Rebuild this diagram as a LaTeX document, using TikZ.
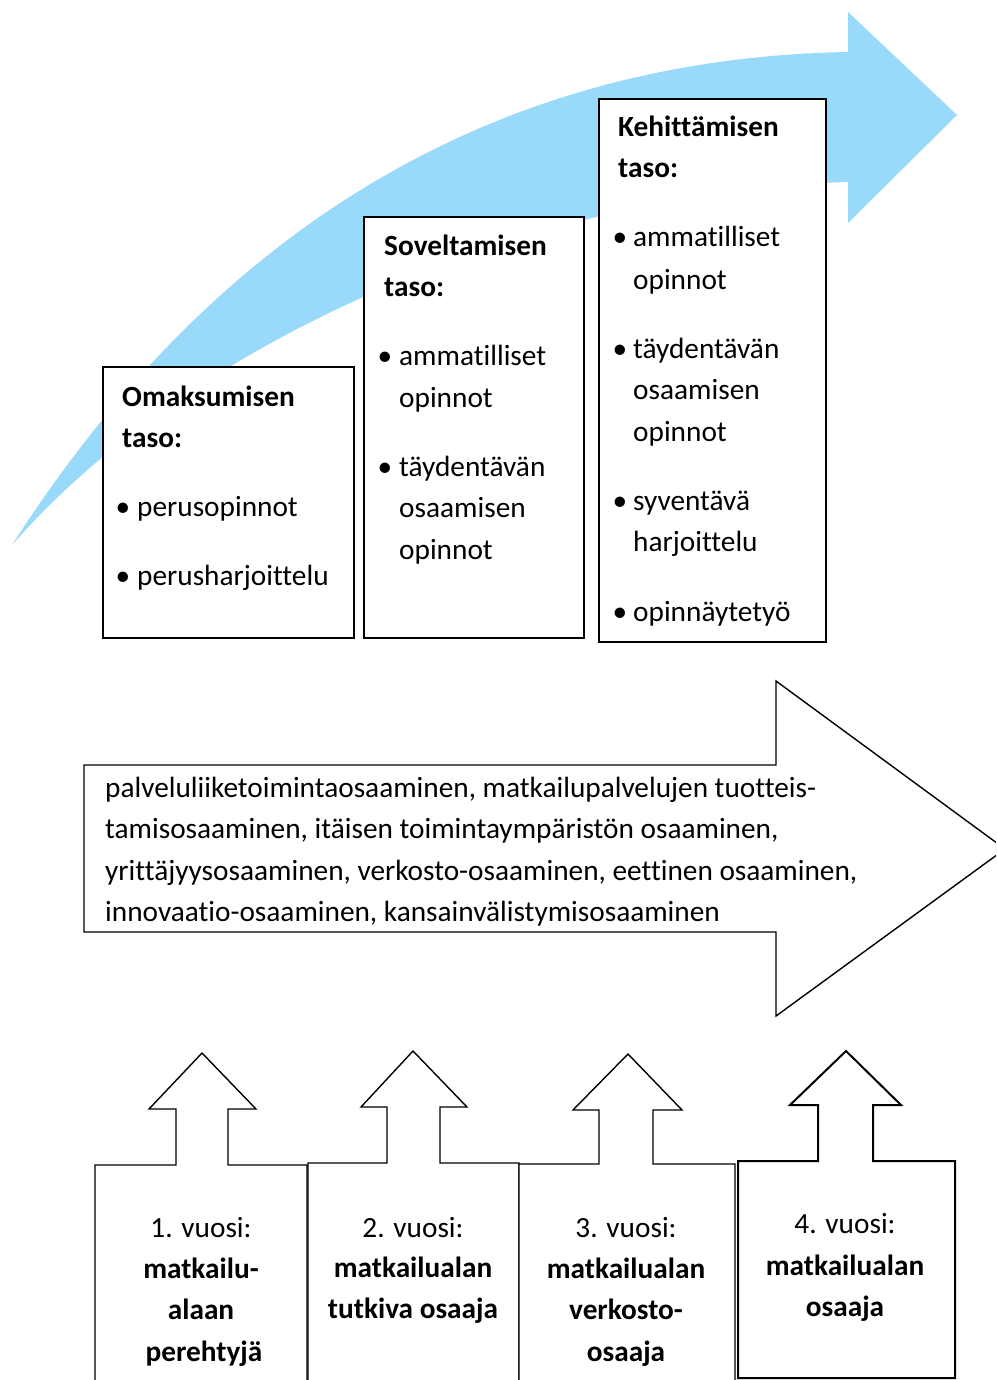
\documentclass[tikz,border=0pt]{standalone}
\usepackage{fontspec}
\setmainfont{Carlito}[Ligatures=NoCommon]
\definecolor{arrowblue}{RGB}{153,217,249}
\begin{document}
\begin{tikzpicture}[x=1pt,y=-1pt,
  lvl/.style={draw=black, line width=1.8pt, fill=white, inner sep=0pt, anchor=north west},
  txt/.style={anchor=base west, inner sep=0pt, font=\fontsize{29.3}{35}\selectfont},
  btxt/.style={anchor=base west, inner sep=0pt, font=\fontsize{29.3}{35}\selectfont\bfseries},
  bul/.style={anchor=base, inner sep=0pt, font=\fontsize{29.3}{35}\selectfont},
  ctxt/.style={anchor=base, inner sep=0pt, font=\fontsize{29.3}{35}\selectfont},
  cbtxt/.style={anchor=base, inner sep=0pt, font=\fontsize{29.3}{35}\selectfont\bfseries},
  outl/.style={draw=black, line width=1.4pt, fill=white, line join=miter},
  outlb/.style={draw=black, line width=2pt, fill=white, line join=miter}
]
\useasboundingbox (0,0) rectangle (996,1380);
\clip (0,0) rectangle (996,1380);

% curved blue arrow
\fill[arrowblue] (12,545) .. controls (150,330) and (400,60) .. (848,52)
  -- (848,12) -- (957,115) -- (848,223) -- (848,182)
  .. controls (550,190) and (200,330) .. (12,545) -- cycle;

% level boxes
\node[lvl, minimum width=251pt, minimum height=271pt] (omak) at (102,366) {};
\node[lvl, minimum width=220pt, minimum height=421pt] (sove) at (363,216) {};
\node[lvl, minimum width=227pt, minimum height=543pt] (kehi) at (598,98) {};

% Omaksumisen
\node[btxt] (o1) at (122,406) {Omaksumisen};
\node[btxt] (o2) at (122,447) {taso:};
\node[bul] (o3b) at (123,516) {•};
\node[txt] (o3) at (137,516) {perusopinnot};
\node[bul] (o4b) at (123,585) {•};
\node[txt] (o4) at (137,585) {perusharjoittelu};

% Soveltamisen
\node[btxt] (s1) at (384,255) {Soveltamisen};
\node[btxt] (s2) at (384,296) {taso:};
\node[bul] (s3b) at (385,365) {•};
\node[txt] (s3) at (399,365) {ammatilliset};
\node[txt] (s4) at (399,407) {opinnot};
\node[bul] (s5b) at (385,476) {•};
\node[txt] (s5) at (399,476) {täydentävän};
\node[txt] (s6) at (399,517) {osaamisen};
\node[txt] (s7) at (399,559) {opinnot};

% Kehittamisen
\node[btxt] (k1) at (618,137) {Kehittämisen};
\node[btxt] (k2) at (618,178) {taso:};
\node[bul] (k3b) at (620,247) {•};
\node[txt] (k3) at (633,247) {ammatilliset};
\node[txt] (k4) at (633,289) {opinnot};
\node[bul] (k5b) at (620,358) {•};
\node[txt] (k5) at (633,358) {täydentävän};
\node[txt] (k6) at (633,399) {osaamisen};
\node[txt] (k7) at (633,441) {opinnot};
\node[bul] (k8b) at (620,510) {•};
\node[txt] (k8) at (633,510) {syventävä};
\node[txt] (k9) at (633,551) {harjoittelu};
\node[bul] (k10b) at (620,621) {•};
\node[txt] (k10) at (633,621) {opinnäytetyö};

% middle big arrow
\draw[outl] (84,765) -- (776,765) -- (776,681) -- (1005,849) -- (776,1016)
  -- (776,932) -- (84,932) -- cycle;
\node[txt] (m1) at (105,797) {palveluliiketoimintaosaaminen, matkailupalvelujen tuotteis-};
\node[txt] (m2) at (105,838) {tamisosaaminen, itäisen toimintaympäristön osaaminen,};
\node[txt] (m3) at (105,880) {yrittäjyysosaaminen, verkosto-osaaminen, eettinen osaaminen,};
\node[txt] (m4) at (105,921) {innovaatio-osaaminen, kansainvälistymisosaaminen};

% bottom up-arrow callouts
\draw[outl] (95,1400) -- (95,1165) -- (176,1165) -- (176,1109) -- (149,1109) -- (202,1053)
  -- (256,1109) -- (228,1109) -- (228,1165) -- (307,1165) -- (307,1400);
\draw[outl] (308,1400) -- (308,1163) -- (387,1163) -- (387,1107) -- (361,1107) -- (413,1051)
  -- (467,1107) -- (440,1107) -- (440,1163) -- (519,1163) -- (519,1400);
\draw[outl] (519,1400) -- (519,1164) -- (599,1164) -- (599,1110) -- (573,1110) -- (628,1054)
  -- (682,1110) -- (653,1110) -- (653,1164) -- (735,1164) -- (735,1400);
\draw[outlb] (738,1378) -- (738,1161) -- (818,1161) -- (818,1105) -- (790,1105) -- (846,1051)
  -- (901,1105) -- (873,1105) -- (873,1161) -- (955,1161) -- (955,1378) -- cycle;

\node[ctxt] (y1a) at (201,1237) {1. vuosi:};
\node[cbtxt] (y1b) at (201,1278) {matkailu-};
\node[cbtxt] (y1c) at (201,1319) {alaan};
\node[cbtxt] (y1d) at (204,1361) {perehtyjä};

\node[ctxt] (y2a) at (413,1237) {2. vuosi:};
\node[cbtxt] (y2b) at (413,1277) {matkailualan};
\node[cbtxt] (y2c) at (413,1318) {tutkiva osaaja};

\node[ctxt] (y3a) at (626,1237) {3. vuosi:};
\node[cbtxt] (y3b) at (626,1278) {matkailualan};
\node[cbtxt] (y3c) at (626,1319) {verkosto-};
\node[cbtxt] (y3d) at (626,1361) {osaaja};

\node[ctxt] (y4a) at (845,1233) {4. vuosi:};
\node[cbtxt] (y4b) at (845,1275) {matkailualan};
\node[cbtxt] (y4c) at (845,1316) {osaaja};
\end{tikzpicture}
\end{document}
